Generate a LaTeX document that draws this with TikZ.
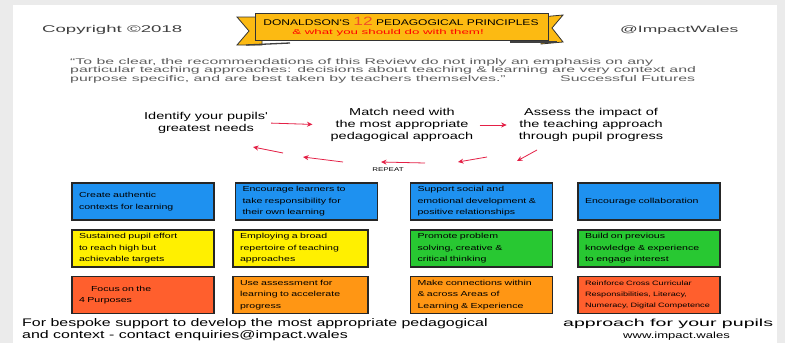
\documentclass[tikz,border=0pt]{standalone}
\usepackage{fontspec}
\setmainfont{Liberation Sans}
\newfontfamily\hand[FakeStretch=1.45]{Liberation Sans}
\newfontfamily\handwide[FakeStretch=1.9]{Liberation Sans}
\usetikzlibrary{positioning,arrows.meta}

\definecolor{pagegrey}{RGB}{235,235,235}
\definecolor{bannergold}{RGB}{252,186,18}
\definecolor{arrowred}{RGB}{228,32,70}
\definecolor{titlered}{RGB}{240,80,40}
\definecolor{quotegrey}{RGB}{95,95,95}
\definecolor{boxblue}{RGB}{30,145,240}
\definecolor{boxyellow}{RGB}{255,240,0}
\definecolor{boxgreen}{RGB}{40,200,50}
\definecolor{boxred}{RGB}{255,95,45}
\definecolor{boxorange}{RGB}{255,150,20}

\tikzset{
  principle/.style={draw=black!85, line width=1.1pt, minimum width=142pt, minimum height=37pt,
    text width=128pt, inner xsep=7pt, align=left, font=\hand\fontsize{7.3}{11.5}\selectfont},
  stage/.style={align=center, inner sep=0pt, font=\hand\fontsize{10}{12}\selectfont},
  note/.style={inner sep=0pt, anchor=west},
  flowarrow/.style={arrowred, line width=0.8pt, -{Stealth[length=5.5pt,width=5pt]}},
  ribbon/.style={fill=bannergold, draw=black!80, line width=0.8pt},
}

\begin{document}
\begin{tikzpicture}[x=1pt,y=-1pt,on grid]
      \fill[pagegrey] (0,0) rectangle (785,343);
      \fill[white] (13,5) rectangle (777,343);
      \useasboundingbox (0,0) rectangle (785,343);

      % banner
      \filldraw[ribbon] (262,17) -- (237,17) -- (249,31) -- (237,45) -- (262,45) -- cycle;
      \filldraw[ribbon] (541,17) -- (563,15) -- (552,28) -- (563,42) -- (541,44) -- cycle;
      \draw[black!75, line width=1.3pt] (246,45) -- (290,43);
      \draw[black!75, line width=1.3pt] (510,42) -- (557,42);
      \filldraw[ribbon] (255,13) rectangle (548,40);
      \node[inner sep=0pt, font=\hand\fontsize{8.3}{9}\selectfont] (title) at (401,21)
        {DONALDSON'S {\color{titlered}\fontsize{12}{12}\selectfont 12} PEDAGOGICAL PRINCIPLES};
      \node[inner sep=0pt, text=red, font=\handwide\fontsize{7}{8}\selectfont] (subtitle) at (388,33)
        {\& what you should do with them!};

      \node[note, text=black!75, font=\handwide\fontsize{9.8}{11}\selectfont] (copyright) at (42,30) {Copyright ©2018};
      \node[note, text=black!75, font=\handwide\fontsize{9.2}{11}\selectfont] (handle) at (620,30) {@ImpactWales};

      % quote
      \node[note, anchor=north west, align=left, text=quotegrey, font=\handwide\fontsize{8.35}{8.6}\selectfont] (quote) at (70,58)
        {“To be clear, the recommendations of this Review do not imply an emphasis on any\\
         particular teaching approaches: decisions about teaching \& learning are very context and\\
         purpose specific, and are best taken by teachers themselves.”};
      \node[note, text=quotegrey, font=\handwide\fontsize{8.35}{8.6}\selectfont] (source) at (560,79) {Successful Futures};

      % cycle
      \node[stage] (identify) at (206,123) {Identify your pupils'\\greatest needs};
      \node[stage] (match) at (402,125) {Match need with\\the most appropriate\\pedagogical approach};
      \node[stage] (assess) at (591,125) {Assess the impact of\\the teaching approach\\through pupil progress};
      \path[flowarrow]
        (identify.east) edge [shorten <=3pt, shorten >=18pt] (match.west)
        (match.east) edge [shorten <=6pt, shorten >=12pt] (assess.west);

      \coordinate (e1) at (537,150); \coordinate (e2) at (517,161);
      \coordinate (d1) at (487,157); \coordinate (d2) at (458,162);
      \coordinate (c1) at (425,163); \coordinate (c2) at (381,162);
      \coordinate (b1) at (343,162); \coordinate (b2) at (303,157);
      \coordinate (a1) at (283,153); \coordinate (a2) at (253,147);
      \path[flowarrow]
        (e1) edge (e2)
        (d1) edge (d2)
        (c1) edge (c2)
        (b1) edge (b2)
        (a1) edge (a2);
      \node[inner sep=0pt, font=\hand\fontsize{5.5}{6}\selectfont] (repeat) at (388,170) {REPEAT};

      % principles
      \node[principle, fill=boxblue] (authentic) at (143,201.5) {Create authentic\\contexts for learning};
      \node[principle, fill=boxblue, right=163.5pt of authentic] (responsibility) {Encourage learners to\\take responsibility for\\their own learning};
      \node[principle, fill=boxblue, right=175pt of responsibility] (wellbeing) {Support social and\\emotional development \&\\positive relationships};
      \node[principle, fill=boxblue, right=167.5pt of wellbeing] (collaboration) {Encourage collaboration};

      \node[principle, fill=boxyellow, below=47pt of authentic] (effort) {Sustained pupil effort\\to reach high but\\achievable targets};
      \node[principle, fill=boxyellow, minimum width=135pt, text width=121pt, below=47pt of responsibility, xshift=-6pt] (repertoire) {Employing a broad\\repertoire of teaching\\approaches};
      \node[principle, fill=boxgreen, below=47pt of wellbeing] (thinking) {Promote problem\\solving, creative \&\\critical thinking};
      \node[principle, fill=boxgreen, below=47pt of collaboration] (knowledge) {Build on previous\\knowledge \& experience\\to engage interest};

      \node[principle, fill=boxred, below=46.5pt of effort] (purposes) {\hspace*{12pt}Focus on the\\4 Purposes};
      \node[principle, fill=boxorange, minimum width=135pt, text width=121pt, below=46.5pt of repertoire] (assessment) {Use assessment for\\learning to accelerate\\progress};
      \node[principle, fill=boxorange, below=46.5pt of thinking] (connections) {Make connections within\\\& across Areas of\\Learning \& Experience};
      \node[principle, fill=boxred, font=\hand\fontsize{6.3}{11}\selectfont, below=46.5pt of knowledge] (crosscurricular) {Reinforce Cross Curricular\\Responsibilities, Literacy,\\Numeracy, Digital Competence};

      % footer
      \node[note, font=\hand\fontsize{11}{11}\selectfont] (support) at (22,324) {For bespoke support to develop the most appropriate pedagogical};
      \node[note, font=\handwide\fontsize{10.3}{11}\selectfont] (approach) at (563,324) {approach for your pupils};
      \node[note, font=\hand\fontsize{11}{11}\selectfont] (contact) at (22,336) {and context - contact enquiries@impact.wales};
      \node[note, font=\hand\fontsize{9}{11}\selectfont] (web) at (623,336) {www.impact.wales};
\end{tikzpicture}
\end{document}
